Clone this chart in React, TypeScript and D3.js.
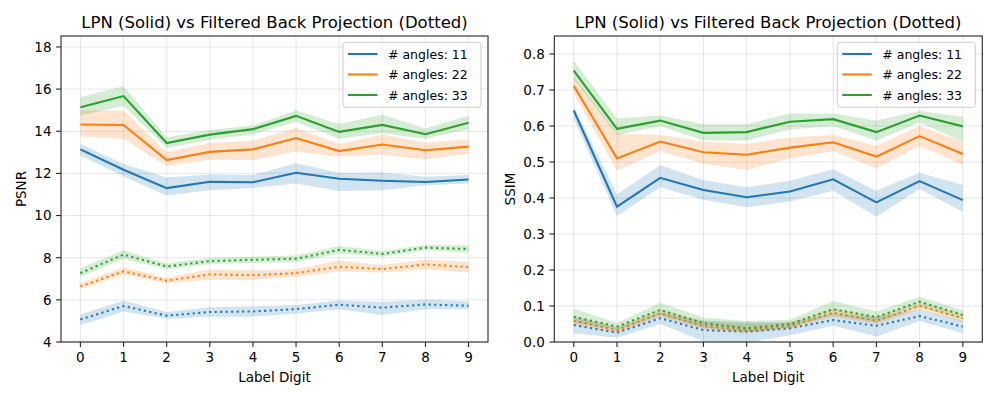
import React from 'react';
import * as d3 from 'd3';

// Label digits on the x axis
const digits = [0, 1, 2, 3, 4, 5, 6, 7, 8, 9];
const angleCounts = [11, 22, 33];
const colors = ['#1f77b4', '#ff7f0e', '#2ca02c'];

// PSNR - LPN (solid)
const psnrLpn11 = [13.14, 12.17, 11.3, 11.6, 11.58, 12.03, 11.75, 11.65, 11.59, 11.71];
const psnrLpn11Lo = [12.85, 11.85, 10.95, 11.2, 11.31, 11.52, 11.17, 11.2, 11.44, 11.52];
const psnrLpn11Hi = [13.4, 12.45, 11.8, 11.95, 11.92, 12.48, 12.03, 12.04, 11.84, 11.92];
const psnrLpn22 = [14.32, 14.3, 12.63, 13.02, 13.14, 13.68, 13.06, 13.37, 13.1, 13.27];
const psnrLpn22Lo = [13.75, 13.65, 12.35, 12.65, 12.63, 13.04, 12.8, 12.88, 12.67, 12.95];
const psnrLpn22Hi = [14.98, 14.98, 13.0, 13.45, 13.55, 14.15, 13.4, 13.85, 13.45, 13.62];
const psnrLpn33 = [15.14, 15.67, 13.44, 13.84, 14.1, 14.73, 13.97, 14.3, 13.86, 14.4];
const psnrLpn33Lo = [14.75, 15.2, 13.2, 13.6, 13.85, 14.45, 13.65, 13.9, 13.65, 14.1];
const psnrLpn33Hi = [15.62, 16.13, 13.71, 14.06, 14.27, 14.99, 14.35, 14.78, 14.13, 14.73];

// PSNR - filtered back projection (dotted)
const psnrFbp11 = [5.07, 5.71, 5.25, 5.42, 5.45, 5.56, 5.77, 5.63, 5.78, 5.72];
const psnrFbp11Lo = [4.79, 5.45, 5.1, 5.2, 5.2, 5.35, 5.55, 5.28, 5.55, 5.55];
const psnrFbp11Hi = [5.3, 5.97, 5.42, 5.65, 5.7, 5.75, 5.97, 5.9, 6.02, 5.92];
const psnrFbp22 = [6.64, 7.35, 6.91, 7.21, 7.17, 7.27, 7.57, 7.46, 7.68, 7.55];
const psnrFbp22Lo = [6.5, 7.2, 6.78, 6.95, 6.95, 7.1, 7.35, 7.3, 7.45, 7.3];
const psnrFbp22Hi = [6.8, 7.55, 7.05, 7.45, 7.4, 7.45, 7.87, 7.65, 7.92, 7.8];
const psnrFbp33 = [7.27, 8.15, 7.58, 7.84, 7.9, 7.95, 8.37, 8.18, 8.48, 8.41];
const psnrFbp33Lo = [7.1, 7.95, 7.45, 7.7, 7.75, 7.8, 8.2, 8.05, 8.35, 8.25];
const psnrFbp33Hi = [7.5, 8.35, 7.72, 7.98, 8.05, 8.1, 8.55, 8.32, 8.62, 8.58];

// SSIM - LPN (solid)
const ssimLpn11 = [0.643, 0.376, 0.456, 0.422, 0.402, 0.418, 0.452, 0.388, 0.447, 0.394];
const ssimLpn11Lo = [0.62, 0.35, 0.43, 0.395, 0.374, 0.39, 0.42, 0.348, 0.425, 0.361];
const ssimLpn11Hi = [0.655, 0.41, 0.491, 0.45, 0.43, 0.448, 0.48, 0.42, 0.47, 0.436];
const ssimLpn22 = [0.712, 0.51, 0.557, 0.527, 0.52, 0.54, 0.555, 0.515, 0.572, 0.522];
const ssimLpn22Lo = [0.69, 0.476, 0.53, 0.495, 0.478, 0.51, 0.53, 0.482, 0.545, 0.492];
const ssimLpn22Hi = [0.737, 0.58, 0.575, 0.557, 0.55, 0.568, 0.575, 0.545, 0.6, 0.556];
const ssimLpn33 = [0.754, 0.592, 0.615, 0.581, 0.583, 0.612, 0.619, 0.583, 0.629, 0.599];
const ssimLpn33Lo = [0.73, 0.575, 0.6, 0.56, 0.56, 0.59, 0.6, 0.56, 0.61, 0.556];
const ssimLpn33Hi = [0.781, 0.621, 0.629, 0.605, 0.605, 0.635, 0.635, 0.615, 0.642, 0.626];

// SSIM - filtered back projection (dotted)
const ssimFbp11 = [0.047, 0.026, 0.066, 0.033, 0.029, 0.038, 0.061, 0.045, 0.072, 0.043];
const ssimFbp11Lo = [0.024, 0.012, 0.05, 0.002, -0.002, 0.019, 0.045, 0.015, 0.058, 0.024];
const ssimFbp11Hi = [0.07, 0.04, 0.082, 0.06, 0.055, 0.055, 0.078, 0.07, 0.09, 0.06];
const ssimFbp22 = [0.059, 0.033, 0.08, 0.044, 0.033, 0.044, 0.081, 0.059, 0.1, 0.066];
const ssimFbp22Lo = [0.048, 0.025, 0.07, 0.035, 0.025, 0.036, 0.07, 0.05, 0.09, 0.055];
const ssimFbp22Hi = [0.072, 0.042, 0.092, 0.058, 0.05, 0.055, 0.094, 0.07, 0.112, 0.078];
const ssimFbp33 = [0.07, 0.043, 0.089, 0.052, 0.038, 0.05, 0.091, 0.069, 0.112, 0.075];
const ssimFbp33Lo = [0.055, 0.033, 0.075, 0.04, 0.028, 0.04, 0.075, 0.055, 0.098, 0.062];
const ssimFbp33Hi = [0.093, 0.053, 0.109, 0.068, 0.058, 0.062, 0.114, 0.085, 0.126, 0.088];

const psnrTicks = [4, 6, 8, 10, 12, 14, 16, 18];
const ssimTicks = [0, 0.1, 0.2, 0.3, 0.4, 0.5, 0.6, 0.7, 0.8];

const FONT = 'DejaVu Sans, sans-serif';
const TITLE = 'LPN (Solid) vs Filtered Back Projection (Dotted)';

type Series = { mean: number[]; lo: number[]; hi: number[]; color: string; dotted: boolean };

const buildSeries = (solid: number[][][], dotted: number[][][]): Series[] => {
  const out: Series[] = [];
  angleCounts.forEach((_, i) => {
    out.push({ mean: solid[i][0], lo: solid[i][1], hi: solid[i][2], color: colors[i], dotted: false });
    out.push({ mean: dotted[i][0], lo: dotted[i][1], hi: dotted[i][2], color: colors[i], dotted: true });
  });
  return out;
};

const psnrSeries = buildSeries(
  [[psnrLpn11, psnrLpn11Lo, psnrLpn11Hi], [psnrLpn22, psnrLpn22Lo, psnrLpn22Hi], [psnrLpn33, psnrLpn33Lo, psnrLpn33Hi]],
  [[psnrFbp11, psnrFbp11Lo, psnrFbp11Hi], [psnrFbp22, psnrFbp22Lo, psnrFbp22Hi], [psnrFbp33, psnrFbp33Lo, psnrFbp33Hi]]
);
const ssimSeries = buildSeries(
  [[ssimLpn11, ssimLpn11Lo, ssimLpn11Hi], [ssimLpn22, ssimLpn22Lo, ssimLpn22Hi], [ssimLpn33, ssimLpn33Lo, ssimLpn33Hi]],
  [[ssimFbp11, ssimFbp11Lo, ssimFbp11Hi], [ssimFbp22, ssimFbp22Lo, ssimFbp22Hi], [ssimFbp33, ssimFbp33Lo, ssimFbp33Hi]]
);

type PanelProps = {
  id: string;
  left: number;
  right: number;
  yDomain: [number, number];
  yTicks: number[];
  fmt: (v: number) => string;
  ylabel: string;
  ylabelX: number;
  series: Series[];
};

const Panel = ({ id, left, right, yDomain, yTicks, fmt, ylabel, ylabelX, series }: PanelProps) => {
  const top = 36;
  const bottom = 342;
  const x = d3.scaleLinear().domain([-0.45, 9.45]).range([left, right]);
  const y = d3.scaleLinear().domain(yDomain).range([bottom, top]);

  const line = d3.line<number>().x((_, i) => x(digits[i])).y(d => y(d));
  const area = (lo: number[], hi: number[]) =>
    d3.area<number>()
      .x((_, i) => x(digits[i]))
      .y0((_, i) => y(lo[i]))
      .y1(d => y(d))(hi);

  const legendRight = right - 7;
  const legendLeft = legendRight - 138;

  return (
    <g>
      <defs>
        <clipPath id={id}>
          <rect x={left} y={top} width={right - left} height={bottom - top} />
        </clipPath>
      </defs>
      <text x={(left + right) / 2} y={27.5} textAnchor="middle" fontSize={16.5} fontFamily={FONT}>{TITLE}</text>

      {/* grid */}
      {digits.map(d => (
        <line key={'gx' + d} x1={x(d)} x2={x(d)} y1={top} y2={bottom} stroke="#b0b0b0" strokeOpacity={0.3} strokeWidth={1} />
      ))}
      {yTicks.map(t => (
        <line key={'gy' + t} x1={left} x2={right} y1={y(t)} y2={y(t)} stroke="#b0b0b0" strokeOpacity={0.3} strokeWidth={1} />
      ))}

      <g clipPath={`url(#${id})`}>
        {series.map((s, i) => (
          <g key={i}>
            <path d={area(s.lo, s.hi) || ''} fill={s.color} fillOpacity={0.2} />
            <path d={line(s.mean) || ''} fill="none" stroke={s.color} strokeWidth={2.1}
              strokeDasharray={s.dotted ? '2.1 3.4' : undefined} />
          </g>
        ))}
      </g>

      {/* axes frame */}
      <rect x={left} y={top} width={right - left} height={bottom - top} fill="none" stroke="#262626" strokeWidth={1.1} />

      {digits.map(d => (
        <g key={'tx' + d}>
          <line x1={x(d)} x2={x(d)} y1={bottom} y2={bottom + 4.9} stroke="#262626" strokeWidth={1.1} />
          <text x={x(d)} y={362} textAnchor="middle" fontSize={13.5} fontFamily={FONT}>{d}</text>
        </g>
      ))}
      {yTicks.map(t => (
        <g key={'ty' + t}>
          <line x1={left - 4.9} x2={left} y1={y(t)} y2={y(t)} stroke="#262626" strokeWidth={1.1} />
          <text x={left - 9.5} y={y(t) + 4.9} textAnchor="end" fontSize={13.5} fontFamily={FONT}>{fmt(t)}</text>
        </g>
      ))}

      <text x={(left + right) / 2} y={382} textAnchor="middle" fontSize={13.5} fontFamily={FONT}>Label Digit</text>
      <text transform={`translate(${ylabelX},${(top + bottom) / 2}) rotate(-90)`} textAnchor="middle" fontSize={13.5} fontFamily={FONT}>{ylabel}</text>

      {/* legend */}
      <rect x={legendLeft} y={42.3} width={legendRight - legendLeft} height={65} rx={3} fill="#fff" fillOpacity={0.8} stroke="#cccccc" strokeWidth={1} />
      {angleCounts.map((a, i) => (
        <g key={'lg' + a}>
          <line x1={legendLeft + 5} x2={legendLeft + 34.5} y1={54 + i * 20.5} y2={54 + i * 20.5} stroke={colors[i]} strokeWidth={2.1} />
          <text x={legendLeft + 45} y={54 + i * 20.5 + 4.5} fontSize={12.5} fontFamily={FONT}># angles: {a}</text>
        </g>
      ))}
    </g>
  );
};

export default function App() {
  return (
    <svg width={997} height={399} style={{ position: 'absolute', left: 0, top: 0, background: '#fff' }}>
      <rect width={997} height={399} fill="#fff" />
      <Panel id="clipL" left={61} right={488} yDomain={[4, 18.52]} yTicks={psnrTicks}
        fmt={d3.format('d')} ylabel="PSNR" ylabelX={26} series={psnrSeries} />
      <Panel id="clipR" left={554.3} right={982.3} yDomain={[0, 0.85]} yTicks={ssimTicks}
        fmt={d3.format('.1f')} ylabel="SSIM" ylabelX={515} series={ssimSeries} />
    </svg>
  );
}
